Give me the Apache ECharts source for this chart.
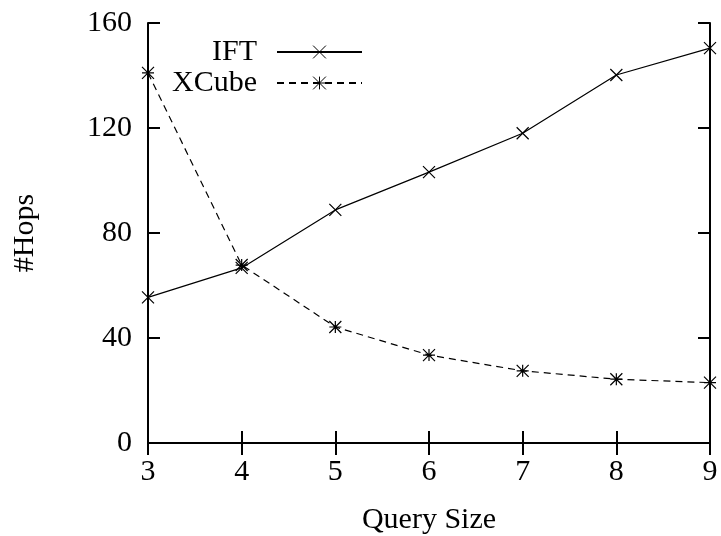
<!DOCTYPE html>
<html>
<head>
<meta charset="utf-8">
<script src="https://cdn.jsdelivr.net/npm/echarts@6/dist/echarts.min.js"></script>
<style>
  html, body { margin: 0; padding: 0; background: #fff; }
  #chart { width: 721px; height: 536px; }
</style>
</head>
<body>
<div id="chart"></div>
<script>
    // data
    const querySize = [3, 4, 5, 6, 7, 8, 9];
    const iftHops = [55.5, 66.7, 88.8, 103.2, 118, 140.2, 150.4];
    const xcubeHops = [141, 67.8, 44.2, 33.5, 27.5, 24.3, 23];
    const yTicks = [0, 40, 80, 120, 160];

    const font = '"Liberation Serif", "DejaVu Serif", serif';
    const crossSym = 'path://M0,0L10,10M10,0L0,10';
    const starSym = 'path://M0,0L10,10M10,0L0,10M5,0L5,10M0,5L10,5';

    function pairs(ys) {
        return querySize.map(function (x, i) { return [x, ys[i]]; });
    }

    const chart = echarts.init(document.getElementById('chart'));

    const axisLine = { show: true, lineStyle: { color: '#000', width: 2 } };
    const ticks = { show: true, inside: true, length: 12, lineStyle: { color: '#000', width: 2 } };
    const legendText = { fontFamily: font, fontSize: 30, color: '#000', padding: [0, 15, 0, 0] };

    const option = {
        backgroundColor: '#fff',
        animation: false,
        grid: { left: 148, right: 11, top: 23, bottom: 93, outerBoundsMode: 'none', containLabel: false },
        legend: [
            {
                data: ['IFT'],
                right: 353, top: 32,
                align: 'right',
                itemWidth: 85, itemHeight: 16,
                itemStyle: { borderWidth: 1 },
                textStyle: legendText
            },
            {
                data: ['XCube'],
                right: 353, top: 63,
                align: 'right',
                itemWidth: 85, itemHeight: 16,
                itemStyle: { borderWidth: 1 },
                textStyle: legendText
            }
        ],
        xAxis: [
            {
                type: 'value', min: 3, max: 9, interval: 1,
                name: 'Query Size', nameLocation: 'middle', nameGap: 62,
                nameTextStyle: { fontFamily: font, fontSize: 30, color: '#000' },
                axisLine: axisLine, axisTick: ticks,
                axisLabel: { fontFamily: font, fontSize: 30, color: '#000', margin: 14 },
                splitLine: { show: false }
            },
            {
                type: 'value', min: 3, max: 9, interval: 1, position: 'top',
                axisLine: axisLine, axisTick: ticks,
                axisLabel: { show: false }, splitLine: { show: false }
            }
        ],
        yAxis: [
            {
                type: 'value', min: yTicks[0], max: yTicks[yTicks.length - 1], interval: 40,
                name: '#Hops', nameLocation: 'middle', nameGap: 108,
                nameTextStyle: { fontFamily: font, fontSize: 30, color: '#000' },
                axisLine: axisLine, axisTick: ticks,
                axisLabel: { fontFamily: font, fontSize: 30, color: '#000', margin: 16 },
                splitLine: { show: false }
            },
            {
                type: 'value', min: yTicks[0], max: yTicks[yTicks.length - 1], interval: 40, position: 'right',
                axisLine: axisLine, axisTick: ticks,
                axisLabel: { show: false }, splitLine: { show: false }
            }
        ],
        series: [
            {
                name: 'IFT', type: 'line',
                data: pairs(iftHops),
                symbol: crossSym, symbolSize: 12,
                lineStyle: { color: '#000', width: 1.2, type: 'solid' },
                itemStyle: { color: 'none', borderColor: '#000', borderWidth: 1.2 }
            },
            {
                name: 'XCube', type: 'line',
                data: pairs(xcubeHops),
                symbol: starSym, symbolSize: 12,
                lineStyle: { color: '#000', width: 1.2, type: [7, 5] },
                itemStyle: { color: 'none', borderColor: '#000', borderWidth: 1.2 }
            }
        ]
    };

    chart.setOption(option);
</script>
</body>
</html>
